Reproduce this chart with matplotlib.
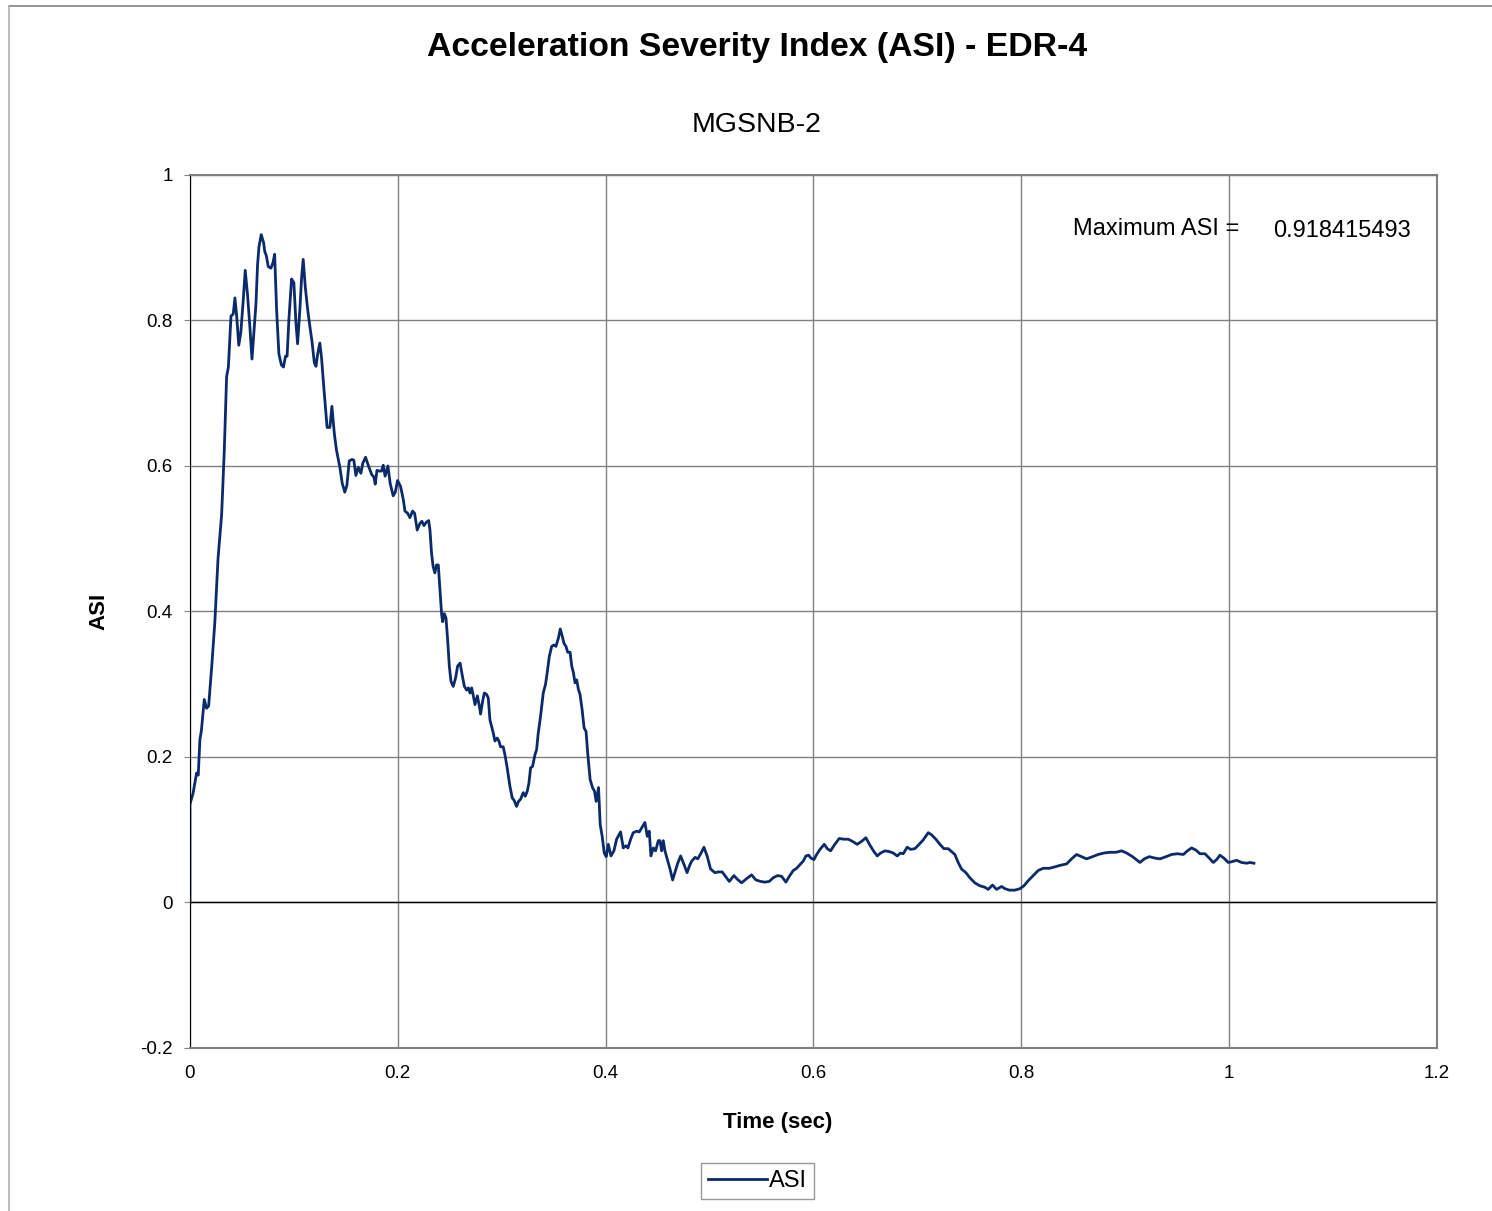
import matplotlib
matplotlib.use("Agg")
import matplotlib.pyplot as plt
from matplotlib.lines import Line2D

plt.rcParams["font.family"] = ["Liberation Sans", "DejaVu Sans"]

# ASI trace (time in sec, ASI)
time = [
    0.0, 0.0, 0.003, 0.0064, 0.008, 0.0096, 0.011, 0.0138, 0.016, 0.018, 0.021,
    0.024, 0.027, 0.0305, 0.033, 0.0353, 0.037, 0.0395, 0.0417, 0.0433, 0.045,
    0.047, 0.049, 0.0513, 0.0532, 0.0555, 0.0577, 0.0597, 0.0616, 0.0635,
    0.0651, 0.0664, 0.0686, 0.0709, 0.072, 0.0735, 0.0754, 0.078, 0.080,
    0.0815, 0.0834, 0.0856, 0.088, 0.090, 0.092, 0.0935, 0.0953, 0.0978, 0.100,
    0.102, 0.1036, 0.1058, 0.1074, 0.109, 0.111, 0.1133, 0.1155, 0.1174,
    0.1197, 0.1213, 0.1229, 0.125, 0.1267, 0.129, 0.132, 0.1347, 0.1366,
    0.139, 0.141, 0.1443, 0.1466, 0.149, 0.151, 0.1533, 0.156, 0.1577, 0.1597,
    0.162, 0.1645, 0.1664, 0.169, 0.1716, 0.175, 0.177, 0.1783, 0.180, 0.1824,
    0.1843, 0.186, 0.1878, 0.1905, 0.1927, 0.1956, 0.1976, 0.1998, 0.2027,
    0.2053, 0.2069, 0.2095, 0.2117, 0.2143, 0.2162, 0.2187, 0.2213, 0.2232,
    0.2252, 0.2277, 0.2297, 0.231, 0.2325, 0.234, 0.2357, 0.2373, 0.239,
    0.2406, 0.2422, 0.2432, 0.2448, 0.2464, 0.248, 0.2496, 0.2512, 0.2534,
    0.2557, 0.2576, 0.260, 0.2622, 0.2641, 0.2663, 0.268, 0.2695, 0.2711,
    0.2727, 0.2743, 0.2766, 0.2785, 0.2797, 0.2817, 0.2833, 0.2855, 0.2871,
    0.2887, 0.2903, 0.2919, 0.2935, 0.2957, 0.2973, 0.2989, 0.3015, 0.3034,
    0.3053, 0.3079, 0.3101, 0.3121, 0.3143, 0.3162, 0.3182, 0.3207, 0.3227,
    0.3246, 0.3262, 0.3278, 0.3297, 0.332, 0.3336, 0.3352, 0.3374, 0.34,
    0.3422, 0.3438, 0.3458, 0.3481, 0.3503, 0.3522, 0.3545, 0.3564, 0.3583,
    0.36, 0.3619, 0.3635, 0.3658, 0.3674, 0.369, 0.3706, 0.3722, 0.3738,
    0.3754, 0.3774, 0.3793, 0.3812, 0.3828, 0.3851, 0.3874, 0.3893, 0.3909,
    0.3932, 0.3948, 0.3967, 0.3987, 0.4006, 0.4026, 0.4052, 0.408, 0.4106,
    0.4144, 0.417, 0.4196, 0.4215, 0.4241, 0.4266, 0.430, 0.4324, 0.4353,
    0.4378, 0.4401, 0.442, 0.4436, 0.4459, 0.4481, 0.4507, 0.4523, 0.4539,
    0.4555, 0.4571, 0.4594, 0.462, 0.4645, 0.4671, 0.4694, 0.4722, 0.4755,
    0.4784, 0.4806, 0.4829, 0.4861, 0.4887, 0.4919, 0.4946, 0.4977, 0.501,
    0.5052, 0.5084, 0.5122, 0.5158, 0.519, 0.5235, 0.5267, 0.5309, 0.535,
    0.5405, 0.5446, 0.5491, 0.5533, 0.5575, 0.5613, 0.5655, 0.5694, 0.5735,
    0.5768, 0.5806, 0.5838, 0.587, 0.5902, 0.5928, 0.5954, 0.5976, 0.6005,
    0.6031, 0.6063, 0.6104, 0.6133, 0.6165, 0.6201, 0.6248, 0.6293, 0.6335,
    0.6376, 0.6421, 0.6463, 0.6505, 0.6543, 0.6582, 0.6614, 0.6646, 0.6688,
    0.6729, 0.6768, 0.6806, 0.6838, 0.6864, 0.6902, 0.6934, 0.6976, 0.7018,
    0.7056, 0.7105, 0.7137, 0.7178, 0.7217, 0.7255, 0.7297, 0.7329, 0.7361,
    0.7393, 0.7425, 0.7467, 0.7505, 0.7553, 0.7601, 0.7649, 0.7681, 0.7723,
    0.7762, 0.7811, 0.7843, 0.7884, 0.7939, 0.7987, 0.8026, 0.8067, 0.8115,
    0.8163, 0.8211, 0.8269, 0.8324, 0.8372, 0.8436, 0.8484, 0.8532, 0.858,
    0.8628, 0.8686, 0.874, 0.8795, 0.8853, 0.8911, 0.8965, 0.9014, 0.9071,
    0.9142, 0.9184, 0.9232, 0.9287, 0.9335, 0.9393, 0.9447, 0.9502, 0.956,
    0.9598, 0.9639, 0.9681, 0.9719, 0.9767, 0.9809, 0.9848, 0.988, 0.9912,
    0.995, 0.9992, 1.0024, 1.0072, 1.012, 1.0168, 1.0201, 1.0239,
]
asi = [
    0.0, 0.135, 0.150, 0.178, 0.175, 0.224, 0.236, 0.279, 0.267, 0.270, 0.325,
    0.386, 0.472, 0.533, 0.619, 0.723, 0.736, 0.806, 0.809, 0.831, 0.806,
    0.766, 0.784, 0.828, 0.869, 0.834, 0.791, 0.747, 0.785, 0.822,
    0.877, 0.901, 0.918, 0.907, 0.895, 0.889, 0.874, 0.872, 0.880,
    0.891, 0.815, 0.754, 0.739, 0.736, 0.751, 0.751, 0.803, 0.857, 0.852,
    0.797, 0.768, 0.815, 0.858, 0.884, 0.846, 0.815, 0.791, 0.772,
    0.742, 0.737, 0.754, 0.769, 0.748, 0.705, 0.653, 0.653, 0.682,
    0.644, 0.622, 0.598, 0.576, 0.564, 0.573, 0.607, 0.609, 0.608, 0.587,
    0.598, 0.590, 0.604, 0.612, 0.601, 0.588, 0.585, 0.575, 0.594, 0.593,
    0.593, 0.601, 0.586, 0.600, 0.576, 0.559, 0.564, 0.580, 0.572,
    0.554, 0.538, 0.535, 0.529, 0.538, 0.535, 0.512, 0.521, 0.524,
    0.518, 0.523, 0.525, 0.512, 0.480, 0.462, 0.453, 0.464, 0.464,
    0.430, 0.396, 0.386, 0.397, 0.391, 0.361, 0.325, 0.304, 0.297,
    0.309, 0.325, 0.329, 0.311, 0.297, 0.292, 0.295, 0.288, 0.295,
    0.284, 0.272, 0.284, 0.270, 0.259, 0.277, 0.288, 0.286, 0.281,
    0.251, 0.242, 0.233, 0.222, 0.226, 0.222, 0.214, 0.214, 0.201,
    0.185, 0.160, 0.144, 0.140, 0.132, 0.139, 0.142, 0.151, 0.146,
    0.153, 0.164, 0.185, 0.187, 0.203, 0.210, 0.233, 0.256, 0.288,
    0.300, 0.316, 0.338, 0.352, 0.354, 0.352, 0.363, 0.376, 0.366,
    0.356, 0.352, 0.344, 0.344, 0.325, 0.316, 0.302, 0.306, 0.293,
    0.286, 0.265, 0.240, 0.235, 0.205, 0.169, 0.158, 0.153, 0.139,
    0.158, 0.107, 0.091, 0.068, 0.063, 0.080, 0.064, 0.071, 0.087,
    0.097, 0.075, 0.078, 0.075, 0.087, 0.096, 0.098, 0.097, 0.104,
    0.110, 0.091, 0.098, 0.064, 0.075, 0.071, 0.085, 0.085, 0.071,
    0.085, 0.071, 0.059, 0.046, 0.031, 0.043, 0.054, 0.064, 0.052,
    0.041, 0.050, 0.057, 0.062, 0.060, 0.068, 0.076, 0.064, 0.046,
    0.041, 0.042, 0.042, 0.035, 0.029, 0.037, 0.032, 0.027, 0.032,
    0.038, 0.031, 0.029, 0.028, 0.029, 0.034, 0.037, 0.036, 0.028,
    0.036, 0.044, 0.047, 0.052, 0.057, 0.064, 0.065, 0.061, 0.059,
    0.066, 0.073, 0.080, 0.074, 0.071, 0.079, 0.088, 0.087, 0.087,
    0.084, 0.080, 0.084, 0.089, 0.079, 0.070, 0.064, 0.068, 0.071,
    0.070, 0.068, 0.064, 0.068, 0.067, 0.076, 0.073, 0.074, 0.080,
    0.086, 0.096, 0.093, 0.087, 0.080, 0.074, 0.074, 0.070, 0.066,
    0.055, 0.046, 0.041, 0.034, 0.027, 0.023, 0.021, 0.018, 0.024,
    0.018, 0.022, 0.019, 0.017, 0.017, 0.019, 0.023, 0.030, 0.037,
    0.044, 0.047, 0.047, 0.049, 0.051, 0.053, 0.060, 0.066, 0.063,
    0.060, 0.063, 0.066, 0.068, 0.069, 0.069, 0.071, 0.068, 0.063,
    0.055, 0.060, 0.063, 0.061, 0.060, 0.063, 0.066, 0.067, 0.066,
    0.071, 0.075, 0.072, 0.067, 0.067, 0.061, 0.055, 0.059, 0.065,
    0.061, 0.055, 0.056, 0.058, 0.055, 0.054, 0.055, 0.054,
]

x_ticks = [0, 0.2, 0.4, 0.6, 0.8, 1, 1.2]
x_labels = ["0", "0.2", "0.4", "0.6", "0.8", "1", "1.2"]
y_ticks = [-0.2, 0, 0.2, 0.4, 0.6, 0.8, 1]
y_labels = ["-0.2", "0", "0.2", "0.4", "0.6", "0.8", "1"]
max_asi = "0.918415493"

fig = plt.figure(figsize=(14.92, 12.11), dpi=100)
ax = fig.add_axes([0.1273, 0.1346, 0.8358, 0.7209])

ax.plot(time, asi, color="#0b2a6b", linewidth=2.0, label="ASI")
ax.axhline(0, color="black", linewidth=1.0, zorder=1)

ax.set_xlim(0, 1.2)
ax.set_ylim(-0.2, 1)
ax.set_xticks(x_ticks)
ax.set_xticklabels(x_labels)
ax.set_yticks(y_ticks)
ax.set_yticklabels(y_labels)
ax.tick_params(axis="x", labelsize=13.5, length=0, pad=12)
ax.tick_params(axis="y", labelsize=13.5, direction="out", length=4.5,
               color="#808080", pad=8)
ax.grid(True, color="#808080", linewidth=1.0)
ax.set_axisbelow(True)
for side in ["top", "right", "bottom"]:
    ax.spines[side].set_color("#808080")
    ax.spines[side].set_linewidth(1.5)
ax.spines["left"].set_color("black")

ax.set_xlabel("Time (sec)", fontsize=16, fontweight="bold")
ax.xaxis.set_label_coords(0.4715, -0.073)
ax.set_ylabel("ASI", fontsize=16, fontweight="bold", labelpad=22)

fig.text(0.5074, 0.9605, "Acceleration Severity Index (ASI) - EDR-4",
         ha="center", va="center", fontsize=24.3, fontweight="bold")
fig.text(0.5074, 0.897, "MGSNB-2", ha="center", va="center", fontsize=20.5)

ax.text(0.708, 0.938, "Maximum ASI =", transform=ax.transAxes,
        fontsize=17, ha="left", va="center")
ax.text(0.979, 0.936, max_asi, transform=ax.transAxes,
        fontsize=17, ha="right", va="center")

leg = ax.legend(loc="upper center", bbox_to_anchor=(0.455, -0.118),
                fontsize=17, frameon=True, fancybox=False, handlelength=2.5,
                handletextpad=0.1, borderpad=0.3)
leg.get_frame().set_edgecolor("#808080")
leg.get_frame().set_linewidth(1.0)

# outer chart border (top and left edges visible in the reference)
fig.lines.append(Line2D([0.006, 1.0], [0.995, 0.995], transform=fig.transFigure,
                        color="#808080", linewidth=1.2))
fig.lines.append(Line2D([0.006, 0.006], [0.0, 0.995], transform=fig.transFigure,
                        color="#b0b0b0", linewidth=1.2))

fig.savefig("out.png", dpi=100)
